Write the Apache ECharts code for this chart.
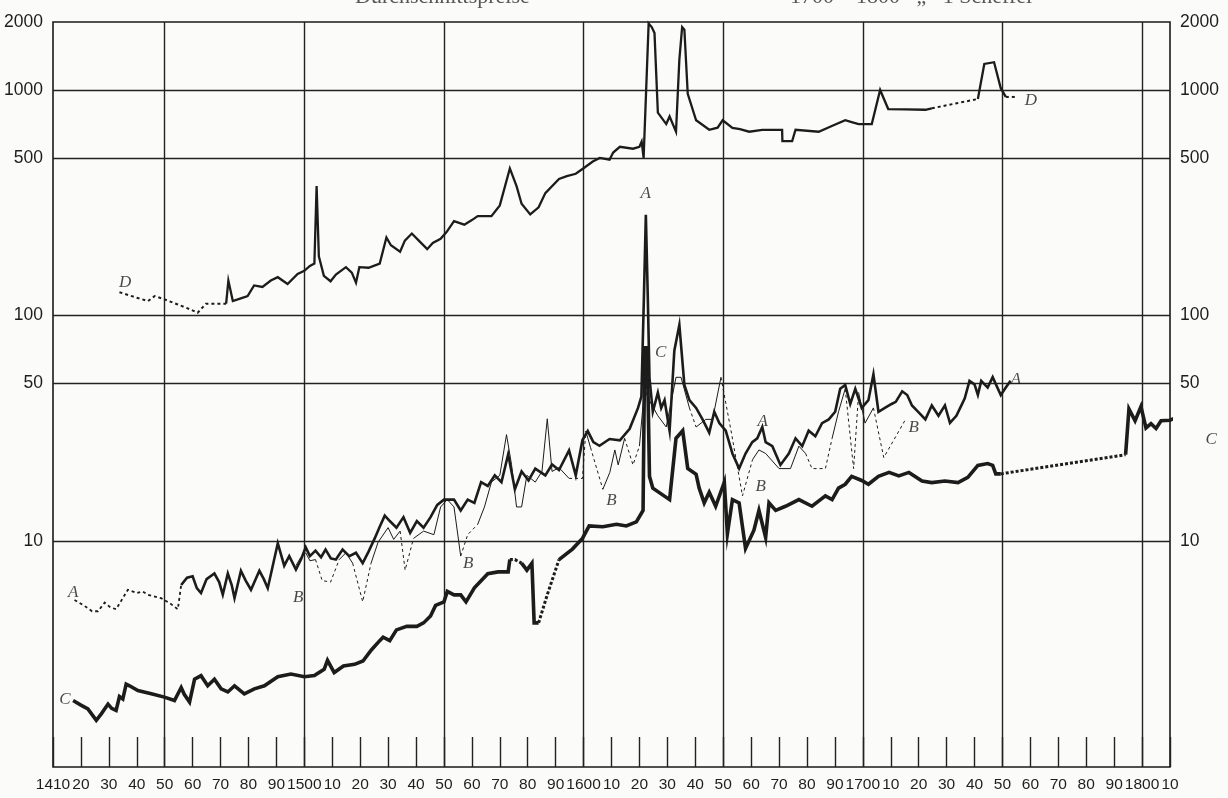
<!DOCTYPE html>
<html><head><meta charset="utf-8">
<script src="https://cdn.jsdelivr.net/npm/echarts@6/dist/echarts.min.js"></script>
<style>html,body{margin:0;padding:0;background:#fbfbf9}#c{width:1228px;height:798px}</style>
</head><body><div id="c"></div>
<script>
// ---- values: [year, price] ----
const seriesA = [[1417.7,5.5],[1421,5.2],[1424,4.9],[1426.1,4.9],[1428.5,5.35],[1430.5,5.1],[1432.6,5.0],[1436.8,6.1],[1440,5.9],[1442,6.0],[1444,5.8],[1448.7,5.6],[1452,5.3],[1454.7,5.0],[1455.9,6.4],[1458,6.9],[1460,7.0],[1461.5,6.2],[1463,5.9],[1465,6.8],[1467.8,7.2],[1469.5,6.6],[1470.8,5.8],[1472.6,7.2],[1474,6.4],[1475,5.6],[1477.3,7.4],[1479,6.7],[1480.9,6.1],[1483.9,7.4],[1485.5,6.8],[1486.9,6.2],[1488.5,7.6],[1490.5,9.8],[1492.8,7.8],[1494.6,8.6],[1497,7.5],[1498.8,8.3],[1500.5,9.4],[1502,8.6],[1504,9.1],[1506,8.5],[1507.6,9.2],[1509.5,8.4],[1511.3,8.3],[1513.7,9.2],[1516.1,8.6],[1518.5,8.9],[1520.9,8.0],[1523,9.0],[1525.2,10.3],[1527,11.6],[1528.8,13.0],[1530.6,12.3],[1533,11.5],[1535.5,12.8],[1537.9,10.9],[1540.3,12.3],[1542.7,11.5],[1545.2,12.8],[1547.6,14.5],[1550,15.3],[1553.6,15.3],[1556,13.7],[1558.5,15.3],[1560.9,14.8],[1563.3,18.3],[1565.7,17.6],[1568.2,19.6],[1570.6,18.3],[1573,24.3],[1575.4,17.0],[1577.8,20.4],[1580.3,18.6],[1582.7,21.0],[1586.3,19.6],[1588.7,21.9],[1591.2,20.7],[1594.8,25.3],[1597.2,19.6],[1599.6,28.1],[1601.5,30.8],[1603.5,27.5],[1605.7,26.5],[1609.3,28.4],[1613,28.0],[1616.5,31.5],[1619.5,39],[1620.7,43.8],[1621.6,120],[1622.3,280],[1623,120],[1623.6,53],[1624.8,37.5],[1626.6,45.6],[1627.8,39],[1629,42.2],[1630.8,30.9],[1632.5,69.9],[1634.3,91],[1636.1,49.3],[1637.9,42.2],[1640.3,39],[1642.6,34.7],[1645,30.3],[1646.8,37.5],[1648.6,33.4],[1650.9,30.9],[1653.3,24.5],[1655.7,21],[1658,24.5],[1660.4,27.5],[1662.2,28.6],[1664,32.1],[1665.2,27.5],[1667.6,26.4],[1670.5,21.8],[1673.5,24.5],[1675.9,28.6],[1678.3,26.4],[1680.6,30.9],[1683,29.2],[1685.4,33.4],[1687.8,34.7],[1690.1,37.5],[1691.9,47.4],[1693.7,49.3],[1695.5,40.6],[1697.3,47.4],[1699.6,39],[1702,42.2],[1703.8,55],[1705.6,37.5],[1707.9,39],[1710.3,40.6],[1711.8,41.5],[1714.1,46.2],[1715.9,44.5],[1717.6,40],[1720,37.3],[1722.4,34.7],[1724.7,40],[1727.1,36],[1729.4,40],[1731.2,33.5],[1733.5,36],[1735.3,40],[1736.5,43],[1738.2,51.4],[1740,49.6],[1741.2,44.5],[1742.4,51.4],[1744.7,48],[1746.5,53.4],[1749.4,44.5],[1751.2,48],[1752.9,51.4]];

const seriesB = [[1497,7.8],[1498.5,8.4],[1500.5,8.9],[1502,8.2],[1504,8.3],[1506.4,6.7],[1509.4,6.6],[1512.5,8.3],[1514.9,8.9],[1517.3,8.0],[1520.9,5.4],[1523.9,8.0],[1526.4,9.9],[1530,11.5],[1532,10.2],[1534.3,11.1],[1536.1,7.45],[1539.1,10.3],[1542.7,11.1],[1546.4,10.7],[1548.8,14.2],[1551.2,15.3],[1553.6,14.2],[1556,8.6],[1558.5,10.7],[1562.1,11.9],[1564.5,14.2],[1567,18.3],[1570,19.6],[1572.4,29.7],[1574.2,21.9],[1576,14.2],[1577.8,14.2],[1579.7,19.6],[1582.7,18.3],[1585.1,20.4],[1587,34.9],[1588.7,20.4],[1591.2,21.2],[1594.8,19.0],[1599.6,19.0],[1600.8,30.8],[1602.5,26],[1606.9,17.0],[1609.4,20.2],[1611.2,25.4],[1612.4,21.8],[1614.7,28.6],[1617.7,21.8],[1620,26.4],[1621.8,47.4],[1623.6,42],[1626.6,36],[1629.6,32.1],[1633.1,53.3],[1634.9,53.3],[1637.9,39],[1640.3,32.1],[1643.8,34.7],[1646.2,34.7],[1649.2,53.3],[1653,30],[1656.9,15.9],[1660.5,23],[1662.8,25.4],[1665.2,24.5],[1670,21],[1674.1,21],[1677.1,26.4],[1679.5,24.5],[1681.8,21],[1686.6,21],[1689,28.6],[1691.3,37.5],[1693.7,47.4],[1696.7,21],[1698.5,45.6],[1700.8,33.4],[1703.8,39],[1707.5,23.5],[1715.3,34.7]];

const seriesC = [[1417.2,1.97],[1420,1.88],[1422.5,1.81],[1425.5,1.61],[1427.3,1.72],[1429.7,1.9],[1431,1.82],[1432.6,1.78],[1433.8,2.05],[1435,2.0],[1436.2,2.33],[1437.4,2.29],[1440.4,2.18],[1445.2,2.11],[1449.9,2.04],[1453.5,1.97],[1455.9,2.25],[1457,2.1],[1458.9,1.94],[1460.7,2.45],[1463,2.54],[1465.4,2.29],[1467.8,2.45],[1470.2,2.22],[1472.6,2.15],[1475,2.29],[1478.5,2.11],[1482.1,2.22],[1485.7,2.29],[1490.5,2.51],[1495.2,2.58],[1500,2.51],[1503.6,2.54],[1507.1,2.71],[1508.3,2.97],[1510.7,2.62],[1514,2.8],[1518,2.85],[1521,2.95],[1524,3.3],[1527,3.63],[1528.2,3.76],[1530.6,3.63],[1533,4.05],[1536.7,4.2],[1540.3,4.2],[1542.7,4.35],[1545.2,4.67],[1547,5.2],[1550,5.39],[1551.2,6.0],[1553.6,5.79],[1556,5.79],[1557.9,5.39],[1560.9,6.22],[1563.3,6.69],[1565.7,7.19],[1569.4,7.32],[1573,7.32],[1573.6,8.3],[1575.4,8.3],[1577.8,8.0],[1579.7,7.45],[1581.5,8.0],[1582.3,4.35],[1583.9,4.35],[1587,5.8],[1591.2,8.3],[1596,9.24],[1599.6,10.3],[1602,11.7],[1606.9,11.6],[1611.8,11.9],[1615.3,11.7],[1618.9,12.2],[1621.3,13.7],[1621.9,72],[1622.8,72],[1623.6,19.4],[1624.8,17.2],[1630.8,15.3],[1633.1,28.6],[1635.5,30.9],[1637.3,21],[1640.3,19.8],[1641.4,17.2],[1643.2,14.8],[1645,16.5],[1647.3,14.3],[1650.4,18.3],[1651.5,10.8],[1653.3,15.3],[1655.7,14.8],[1658,9.3],[1661,11.2],[1662.8,13.7],[1665.2,10.4],[1666.4,14.8],[1668.8,13.7],[1672.3,14.3],[1677.1,15.3],[1681.8,14.3],[1686.6,15.9],[1689,15.3],[1691.3,17.2],[1693.7,17.9],[1696,19.4],[1699.6,18.6],[1702,17.9],[1705.6,19.4],[1709.4,20.2],[1712.9,19.5],[1716.5,20.2],[1721.2,18.5],[1724.7,18.2],[1729.4,18.5],[1734.1,18.2],[1737.6,19.2],[1741.2,21.7],[1744.7,22.1],[1746.5,21.7],[1747.6,19.9],[1749.4,19.9],[1794.1,24.2],[1795.3,38.6],[1797.5,34.2],[1799.6,39.5],[1801.4,31.8],[1803.2,33.2],[1805,31.6],[1806.8,34.2],[1810,34.4],[1812.9,35.7],[1816.5,43.8],[1819,30]];

const seriesD = [[1433.8,127],[1440,120],[1444,116],[1446.4,122],[1450,118],[1454.7,112],[1458,108],[1461.8,103],[1464.8,113],[1468,113],[1472,113],[1472.8,143],[1474.4,116],[1477,119],[1479.7,122],[1482,136],[1485,134],[1488,143],[1490.5,148],[1494,138],[1497.6,153],[1500,158],[1502,166],[1503.6,170],[1504.4,375],[1505.2,183],[1507,150],[1509.4,142],[1511.3,152],[1514.9,164],[1517,155],[1518.5,140],[1519.7,164],[1523,163],[1527,170],[1529.4,222],[1531,205],[1534.3,192],[1536,215],[1538.5,231],[1541,215],[1544,197],[1546,210],[1548.8,219],[1551,235],[1553.6,262],[1557.3,253],[1560,265],[1562.1,276],[1567,276],[1570,308],[1573.6,449],[1576,375],[1577.8,313],[1580.9,281],[1583.9,302],[1586.3,349],[1591.2,403],[1594,415],[1597.2,425],[1600,450],[1603.3,482],[1605.8,500],[1609.3,491],[1610.6,528],[1613,560],[1617.7,549],[1620,560],[1620.8,590],[1621.5,500],[1623.3,1970],[1624.4,1900],[1625.4,1786],[1626.6,793],[1629.6,706],[1630.8,763],[1633.1,653],[1634.3,1362],[1635.3,1900],[1636.1,1850],[1637.3,962],[1640.3,734],[1645,666],[1648,680],[1649.8,734],[1653.3,679],[1656,670],[1659.3,653],[1664,666],[1671.1,666],[1671.2,593],[1674.7,593],[1675.9,666],[1684.2,653],[1688.9,692],[1693.7,734],[1696,720],[1698.5,706],[1703.2,706],[1706.2,1000],[1709.1,823],[1715,820],[1722.4,817],[1724.7,829],[1741.2,912],[1743.5,1304],[1747,1327],[1749.4,1018],[1751.2,931],[1755.3,931]];

const yTickValues = [10, 50, 100, 500, 1000, 2000];
const yGridValues = [10, 50, 100, 500, 1000];
const xGridYears = [1450, 1500, 1550, 1600, 1650, 1700, 1750, 1800];
const curveLabels = [
  [1417.2, 5.94, 'A'], [1622.2, 346, 'A'], [1664.1, 33.8, 'A'], [1754.8, 51.9, 'A'],
  [1497.8, 5.64, 'B'], [1558.7, 8.0, 'B'], [1610, 15.2, 'B'], [1663.4, 17.4, 'B'], [1718.2, 31.8, 'B'],
  [1414.3, 2.0, 'C'], [1627.6, 68.4, 'C'], [1824.7, 28.2, 'C'],
  [1435.8, 140, 'D'], [1760.2, 897, 'D']
];

// year ranges drawn dashed (style, not data)
const dashedA = [[1417, 1456]];
const dashedB = [[1505, 1511], [1519, 1523.5], [1535, 1539], [1555, 1562.5], [1594, 1601], [1602, 1607], [1614, 1620], [1637, 1640.5], [1649, 1660.6], [1679, 1689.1], [1693.5, 1698.6], [1703.5, 1716]];
const dashedC = [[1573.5, 1577.9], [1583.5, 1591.3], [1749, 1794.2]];
const dashedD = [[1433, 1472.1], [1724.6, 1741.3], [1751.1, 1756]];

const INK = '#1c1c1c';

function runs(data, ranges) {
  const out = []; let cur = null;
  for (let i = 0; i < data.length - 1; i++) {
    const m = (data[i][0] + data[i + 1][0]) / 2;
    const d = ranges.some(r => m > r[0] && m < r[1]);
    if (!cur || cur.dashed !== d) { cur = { dashed: d, pts: [data[i]] }; out.push(cur); }
    cur.pts.push(data[i + 1]);
  }
  return out;
}

function buildSeries(name, data, ranges, width, dashWidth, dash) {
  return runs(data, ranges).map(r => ({
    type: 'line', name: name, data: r.pts, symbol: 'none', showSymbol: false,
    clip: false, animation: false, silent: true, z: 5,
    lineStyle: { color: INK, width: r.dashed ? dashWidth : width, type: r.dashed ? dash : 'solid', join: 'miter', cap: 'butt' }
  }));
}

const series = [].concat(
  buildSeries('D', seriesD, dashedD, 2.3, 2.0, [3, 3]),
  buildSeries('A', seriesA, dashedA, 2.6, 1.8, [3, 3]),
  buildSeries('B', seriesB, dashedB, 1.0, 1.0, [3, 3]),
  buildSeries('C', seriesC, dashedC, 3.6, 3.0, [3, 2])
);

series.push({
  type: 'line', data: [], silent: true, animation: false, z: 2,
  markLine: {
    silent: true, animation: false, symbol: ['none', 'none'], label: { show: false },
    lineStyle: { color: '#222', width: 1.4, type: 'solid' },
    data: xGridYears.map(x => ({ xAxis: x })).concat(yGridValues.map(y => ({ yAxis: y })))
  }
});

series.push({
  type: 'scatter', data: curveLabels, symbolSize: 1, clip: false, silent: true, animation: false, z: 6,
  itemStyle: { color: 'rgba(0,0,0,0)' },
  label: {
    show: true, position: 'inside', formatter: p => p.data[2],
    fontFamily: 'Liberation Serif', fontStyle: 'italic', fontSize: 17, color: INK
  }
});

const yAxisCommon = {
  type: 'log', logBase: 10, min: 1, max: 2000,
  axisLine: { show: false }, axisTick: { show: false, customValues: yTickValues }, splitLine: { show: false },
  axisLabel: { customValues: yTickValues, formatter: v => String(Math.round(v)), fontFamily: 'Liberation Sans', fontSize: 17.5, color: '#1e1e1e', margin: 10 }
};

const option = {
  backgroundColor: '#fbfbf9',
  animation: false,
  grid: { left: 53, right: 58, top: 22, bottom: 31, show: true, borderColor: '#1a1a1a', borderWidth: 1.6, backgroundColor: 'transparent' },
  xAxis: {
    type: 'value', min: 1410, max: 1810, interval: 10,
    axisLine: { show: false }, splitLine: { show: false },
    axisTick: { show: true, inside: true, length: 30, lineStyle: { color: '#222', width: 1.4 } },
    axisLabel: {
      fontFamily: 'Liberation Sans', fontSize: 15.5, color: '#1e1e1e', margin: 10,
      formatter: v => (v === 1410 || v % 100 === 0) ? String(v) : String(v % 100)
    }
  },
  yAxis: [
    Object.assign({ position: 'left' }, yAxisCommon),
    Object.assign({ position: 'right' }, yAxisCommon)
  ],
  graphic: [
    { type: 'text', left: 355, top: -14, silent: true, style: { text: 'Durchschnittspreise', font: '22px "Liberation Serif"', fill: '#555' } },
    { type: 'text', left: 790, top: -14, silent: true, style: { text: '1700 – 1800   „   1 Scheffel', font: '22px "Liberation Serif"', fill: '#555' } }
  ],
  series: series
};

const chart = echarts.init(document.getElementById('c'), null, { renderer: 'canvas' });
chart.setOption(option);
</script>
</body></html>
